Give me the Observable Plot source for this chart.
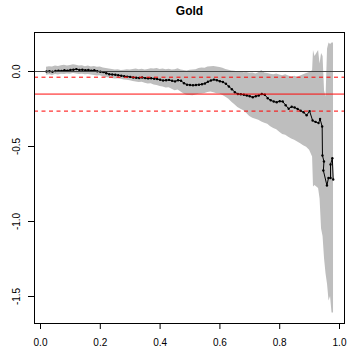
<!DOCTYPE html>
<html>
<head>
<meta charset="utf-8">
<script src="https://cdn.jsdelivr.net/npm/d3@7"></script>
<script src="https://cdn.jsdelivr.net/npm/@observablehq/plot@0.6"></script>
<style>
  body { margin: 0; background: white; }
</style>
</head>
<body>
<div id="chart"></div>
<script>
// Running estimate for Gold along the sample fraction
const posX = [
  0.02, 0.03, 0.04, 0.05, 0.06, 0.07, 0.08, 0.09, 0.10, 0.11,
  0.12, 0.13, 0.14, 0.15, 0.16, 0.17, 0.18, 0.19, 0.20, 0.21,
  0.22, 0.23, 0.24, 0.25, 0.26, 0.27, 0.28, 0.29, 0.30, 0.31,
  0.32, 0.33, 0.34, 0.35, 0.36, 0.37, 0.38, 0.39, 0.40, 0.41,
  0.42, 0.43, 0.44, 0.45, 0.46, 0.47, 0.48, 0.49, 0.50, 0.51,
  0.52, 0.53, 0.54, 0.55, 0.56, 0.57, 0.58, 0.59, 0.60, 0.61,
  0.62, 0.63, 0.64, 0.65, 0.66, 0.67, 0.68, 0.69, 0.70, 0.71,
  0.72, 0.73, 0.74, 0.75, 0.76, 0.77, 0.78, 0.79, 0.80, 0.81,
  0.82, 0.83, 0.84, 0.85, 0.86, 0.87, 0.88, 0.89, 0.90, 0.91,
  0.92, 0.93, 0.935, 0.942, 0.943, 0.948, 0.946, 0.958, 0.963, 0.970,
  0.970, 0.976, 0.979
];
const estimate = [
  0.000, 0.002, -0.002, 0.003, 0.005, 0.004, 0.008, 0.006, 0.010, 0.012,
  0.016, 0.010, 0.012, 0.008, 0.010, 0.006, 0.008, 0.002, -0.002, -0.004,
  -0.012, -0.018, -0.020, -0.022, -0.025, -0.028, -0.032, -0.034, -0.036, -0.040,
  -0.042, -0.043, -0.040, -0.044, -0.046, -0.045, -0.048, -0.050, -0.055, -0.060,
  -0.058, -0.056, -0.062, -0.066, -0.058, -0.062, -0.078, -0.088, -0.090, -0.092,
  -0.090, -0.088, -0.085, -0.080, -0.068, -0.060, -0.054, -0.058, -0.065, -0.070,
  -0.082, -0.100, -0.118, -0.138, -0.150, -0.152, -0.155, -0.160, -0.165, -0.172,
  -0.165, -0.160, -0.150, -0.155, -0.178, -0.192, -0.200, -0.205, -0.198, -0.200,
  -0.225, -0.248, -0.235, -0.240, -0.250, -0.262, -0.272, -0.292, -0.264, -0.327,
  -0.336, -0.344, -0.316, -0.367, -0.560, -0.600, -0.660, -0.760, -0.710, -0.710,
  -0.620, -0.578, -0.720
];

// Confidence band around the estimate
const bandX = [
  0.02, 0.03, 0.04, 0.05, 0.06, 0.07, 0.08, 0.09, 0.10, 0.11,
  0.12, 0.13, 0.14, 0.15, 0.16, 0.17, 0.18, 0.19, 0.20, 0.21,
  0.22, 0.23, 0.24, 0.25, 0.26, 0.27, 0.28, 0.29, 0.30, 0.31,
  0.32, 0.33, 0.34, 0.35, 0.36, 0.37, 0.38, 0.39, 0.40, 0.41,
  0.42, 0.43, 0.44, 0.45, 0.46, 0.47, 0.48, 0.49, 0.50, 0.51,
  0.52, 0.53, 0.54, 0.55, 0.56, 0.57, 0.58, 0.59, 0.60, 0.61,
  0.62, 0.63, 0.64, 0.65, 0.66, 0.67, 0.68, 0.69, 0.70, 0.71,
  0.72, 0.73, 0.74, 0.75, 0.76, 0.77, 0.78, 0.79, 0.80, 0.81,
  0.82, 0.83, 0.84, 0.85, 0.86, 0.87, 0.88, 0.89, 0.90, 0.91,
  0.913, 0.918, 0.924, 0.93, 0.935, 0.94, 0.945, 0.95, 0.955, 0.96,
  0.965, 0.97, 0.975, 0.98
];
const bandUpper = [
  0.028, 0.032, 0.030, 0.036, 0.034, 0.038, 0.042, 0.036, 0.040, 0.045,
  0.042, 0.036, 0.038, 0.032, 0.036, 0.030, 0.033, 0.028, 0.030, 0.024,
  0.020, 0.016, 0.014, 0.010, 0.012, 0.006, 0.009, 0.012, 0.010, 0.014,
  0.016, 0.012, 0.015, 0.010, 0.013, 0.018, 0.016, 0.020, 0.014, 0.016,
  0.012, 0.015, 0.010, 0.012, 0.018, 0.010, 0.006, 0.004, 0.008, 0.010,
  0.012, 0.020, 0.024, 0.022, 0.030, 0.032, 0.034, 0.030, 0.026, 0.022,
  0.014, 0.008, 0.004, 0.002, -0.004, -0.002, -0.008, -0.006, -0.012, -0.010,
  -0.016, -0.008, 0.006, -0.010, -0.014, -0.018, -0.022, -0.016, -0.024, -0.028,
  -0.022, -0.030, -0.036, -0.032, -0.038, -0.030, -0.022, -0.014, -0.006, 0.005,
  0.140, 0.100, 0.120, 0.140, 0.050, 0.120, 0.100, -0.130, -0.170, 0.150,
  0.190, 0.180, 0.190, 0.190
];
const bandLower = [
  -0.025, -0.022, -0.026, -0.020, -0.024, -0.018, -0.020, -0.016, -0.018, -0.014,
  -0.016, -0.020, -0.018, -0.022, -0.020, -0.024, -0.026, -0.030, -0.028, -0.036,
  -0.040, -0.044, -0.046, -0.050, -0.048, -0.052, -0.056, -0.058, -0.062, -0.066,
  -0.070, -0.074, -0.072, -0.078, -0.084, -0.082, -0.090, -0.094, -0.100, -0.104,
  -0.110, -0.108, -0.118, -0.128, -0.124, -0.136, -0.150, -0.158, -0.160, -0.162,
  -0.156, -0.152, -0.150, -0.146, -0.140, -0.136, -0.142, -0.148, -0.150, -0.160,
  -0.172, -0.185, -0.205, -0.222, -0.240, -0.252, -0.262, -0.280, -0.300, -0.312,
  -0.318, -0.325, -0.336, -0.345, -0.352, -0.368, -0.380, -0.388, -0.405, -0.420,
  -0.425, -0.438, -0.450, -0.458, -0.470, -0.482, -0.495, -0.505, -0.525, -0.570,
  -0.770, -0.760, -0.770, -0.780, -0.850, -1.050, -1.100, -1.250, -1.350, -1.420,
  -1.530, -1.500, -1.610, -1.610
];

// Reference levels
const zeroLevel = 0;
const meanLevel = -0.151;
const meanBounds = [-0.038, -0.264];

// Axis ticks
const xTicks = [0, 0.2, 0.4, 0.6, 0.8, 1.0];
const xTickLabels = ["0.0", "0.2", "0.4", "0.6", "0.8", "1.0"];
const yTicks = [0, -0.5, -1.0, -1.5];
const yTickLabels = ["0.0", "-0.5", "-1.0", "-1.5"];

const series = posX.map((x, i) => ({x, y: estimate[i]}));
const band = bandX.map((x, i) => ({x, lo: bandLower[i], hi: bandUpper[i]}));
const yLabelRows = yTicks.map((v, i) => ({v, label: yTickLabels[i]}));

const chart = Plot.plot({
  width: 347,
  height: 354,
  marginLeft: 34,
  marginRight: 3,
  marginTop: 32,
  marginBottom: 31,
  style: {
    background: "white",
    color: "black",
    fontFamily: "'Liberation Sans', Arial, Helvetica, sans-serif",
    fontSize: "10px"
  },
  x: {domain: [-0.0201, 1.0167]},
  y: {domain: [-1.68, 0.26]},
  marks: [
    Plot.areaY(band, {x: "x", y1: "lo", y2: "hi", fill: "#bebebe", curve: "linear"}),
    Plot.line(series, {x: "x", y: "y", stroke: "black", strokeWidth: 1}),
    Plot.dot(series, {x: "x", y: "y", r: 1.2, fill: "black", stroke: null}),
    Plot.ruleY([zeroLevel], {stroke: "#444", strokeWidth: 1}),
    Plot.ruleY([meanLevel], {stroke: "red", strokeOpacity: 0.55, strokeWidth: 1.6}),
    Plot.ruleY(meanBounds, {stroke: "red", strokeWidth: 1, strokeDasharray: "4,3.5"}),
    Plot.frame({stroke: "black", strokeWidth: 1}),
    Plot.axisX({
      ticks: xTicks,
      tickSize: 6,
      tickPadding: 9,
      fontSize: 10,
      tickFormat: (d) => xTickLabels[xTicks.indexOf(d)],
      label: null
    }),
    Plot.axisY({
      ticks: yTicks,
      tickSize: 6,
      tickFormat: () => "",
      label: null
    }),
    Plot.text(yLabelRows, {
      y: "v",
      text: "label",
      frameAnchor: "left",
      dx: -18,
      rotate: -90,
      textAnchor: "middle",
      lineAnchor: "middle",
      fontSize: 10,
      fill: "black"
    }),
    Plot.text(["Gold"], {
      frameAnchor: "top",
      dy: -18,
      lineAnchor: "bottom",
      fontSize: 12,
      fontWeight: "bold",
      fill: "black"
    })
  ]
});

document.getElementById("chart").appendChild(chart);
</script>
</body>
</html>
